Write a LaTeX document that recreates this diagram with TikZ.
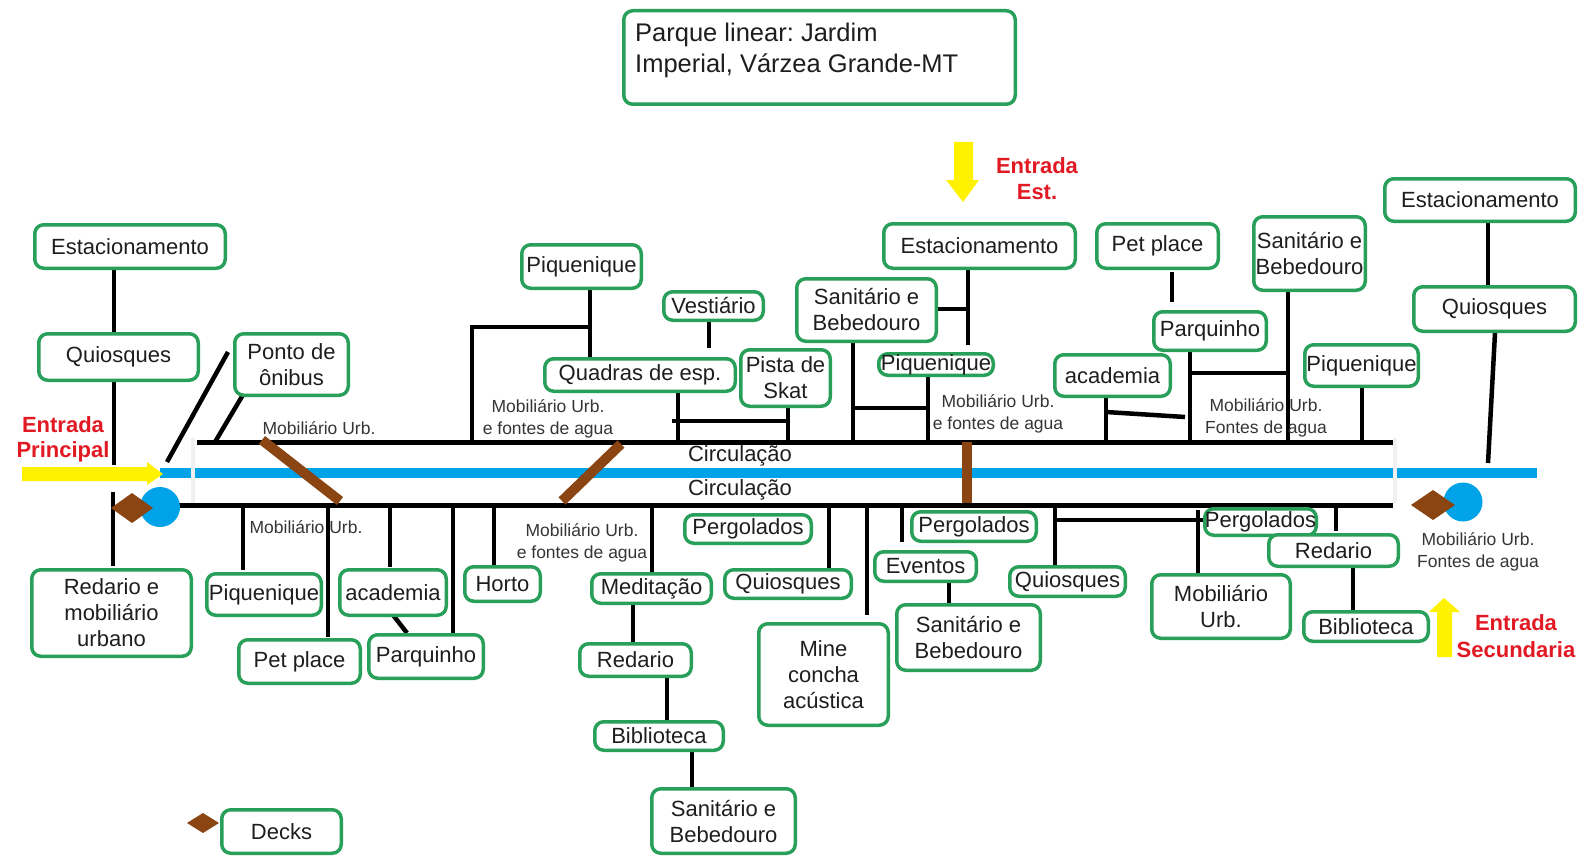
\documentclass[tikz,border=0pt]{standalone}
\usepackage{fontspec}
\setmainfont{Liberation Sans}
\frenchspacing
\definecolor{bgreen}{RGB}{40,160,90}
\definecolor{pblue}{RGB}{0,162,232}
\definecolor{pbrown}{RGB}{139,69,19}
\definecolor{pyellow}{RGB}{255,242,0}
\definecolor{pred}{RGB}{225,25,35}
\definecolor{txt}{RGB}{30,30,30}
\newcommand{\bxfont}{\fontsize{22}{26}\selectfont}
\newcommand{\smfont}{\fontsize{17.5}{22}\selectfont}
\newcommand{\ttlfont}{\fontsize{25.5}{31}\selectfont}
\newcommand{\bx}[6]{\node[box, minimum width={#4-#2-3.5}, minimum height={#5-#3-3.5}] (#1) at ({(#2+#4)/2},{(#3+#5)/2}) {#6};}
\newcommand{\dmd}[4]{\fill[pbrown] (#1-#3,#2) -- (#1,#2-#4) -- (#1+#3,#2) -- (#1,#2+#4) -- cycle;}
\tikzset{
  box/.style={draw=bgreen, line width=3.5pt, rounded corners=9pt, fill=white, inner sep=0pt, align=center, text=txt, font=\bxfont},
  conn/.style={line width=4.5pt, black},
  mainline/.style={line width=5pt, black},
  deckbar/.style={line width=10pt, pbrown},
  lbl/.style={font=\smfont, text=txt!90, align=center, inner sep=0pt},
  entlbl/.style={font=\bxfont\bfseries, text=pred, align=center, inner sep=0pt},
}
\begin{document}
\begin{tikzpicture}[x=1pt,y=-1pt]
\useasboundingbox (0,0) rectangle (1582,856);
\fill[white] (0,0) rectangle (1582,856);

% blue path and main circulation lines
\draw[pblue, line width=10.5pt] (160,473) -- (1537,473);
\draw[gray!12, line width=4pt] (193,438) -- (193,503);
\draw[gray!12, line width=4pt] (1395,438) -- (1395,503);
\draw[mainline] (197,442) -- (1393,442);
\draw[mainline] (165,505) -- (1393,505);

% entrance arrows
\fill[pyellow] (22,467) -- (147,467) -- (147,462) -- (163,474) -- (147,485) -- (147,481) -- (22,481) -- cycle;
\fill[pyellow] (954,142) -- (973,142) -- (973,180) -- (979,180) -- (963,202) -- (946,180) -- (954,180) -- cycle;
\fill[pyellow] (1437,657) -- (1452,657) -- (1452,612) -- (1460,612) -- (1444,598) -- (1429,612) -- (1437,612) -- cycle;

% connectors (drawn before boxes)
\draw[conn] (114,268) -- (114,334);
\draw[conn] (114,380) -- (114,465);
\draw[conn] (113,492) -- (113,566);
\draw[conn] (228,352) -- (167,462);
\draw[conn] (247,388) -- (215,442);
\draw[conn] (243,505) -- (243,570);
\draw[conn] (328,505) -- (328,637);
\draw[conn] (390,505) -- (390,567);
\draw[conn] (393,615) -- (407,633);
\draw[conn] (453,505) -- (453,633);
\draw[conn] (494,505) -- (494,565);
\draw[conn] (652,505) -- (652,572);
\draw[conn] (633,605) -- (633,642);
\draw[conn] (667,678) -- (667,720);
\draw[conn] (692,752) -- (692,787);
\draw[conn] (829,505) -- (829,568);
\draw[conn] (867,505) -- (867,615);
\draw[conn] (902,505) -- (902,542);
\draw[conn] (949,583) -- (949,603);
\draw[conn] (1055,505) -- (1055,567);
\draw[conn] (1055,520) -- (1205,520);
\draw[conn] (1198,510) -- (1198,573);
\draw[conn] (1336,505) -- (1336,531);
\draw[conn] (1353,568) -- (1353,610);
% upper connectors
\draw[conn] (472,442) -- (472,327) -- (590,327);
\draw[conn] (590,290) -- (590,357);
\draw[conn] (709,318) -- (709,348);
\draw[conn] (678,393) -- (678,442);
\draw[conn] (672,421) -- (788,421);
\draw[conn] (788,405) -- (788,442);
\draw[conn] (968,270) -- (968,345);
\draw[conn] (938,309) -- (968,309);
\draw[conn] (853,343) -- (853,442);
\draw[conn] (853,408) -- (928,408);
\draw[conn] (928,376) -- (928,442);
\draw[conn] (1172,272) -- (1172,302);
\draw[conn] (1106,398) -- (1106,442);
\draw[conn] (1106,412) -- (1185,417);
\draw[conn] (1190,352) -- (1190,442);
\draw[conn] (1190,373) -- (1288,373);
\draw[conn] (1288,292) -- (1288,442);
\draw[conn] (1362,388) -- (1362,442);
\draw[conn] (1488,223) -- (1488,285);
\draw[conn] (1495,333) -- (1488,463);

% deck bars
\draw[deckbar] (262,440) -- (340,501);
\draw[deckbar] (621,444) -- (562,501);
\draw[deckbar] (967,442) -- (967,503);

% circles and diamonds
\fill[pblue] (160,507) circle (20);
\dmd{132}{508}{21}{15}
\fill[pblue] (1463,502) circle (19.5);
\dmd{1433}{505}{22}{15}
\dmd{203}{823}{16}{10}

% title
\bx{title}{622}{9}{1017}{106}{}
\node[anchor=west, align=left, inner sep=0pt, font=\ttlfont, text=txt] (ttltext) at (635,50) {Parque linear: Jardim\\Imperial, Várzea Grande-MT};

% boxes
\bx{estL}{33}{223}{227}{270}{Estacionamento}
\bx{quiL}{37}{332}{200}{382}{Quiosques}
\bx{ponto}{233}{332}{350}{397}{Ponto de\\ônibus}
\bx{redL}{30}{568}{193}{658}{Redario e\\mobiliário\\urbano}
\bx{piqB}{205}{572}{323}{617}{Piquenique}
\bx{petB}{237}{638}{362}{685}{Pet place}
\bx{acaB}{338}{568}{448}{617}{academia}
\bx{parB}{367}{633}{485}{680}{Parquinho}
\bx{horto}{463}{565}{542}{603}{Horto}
\bx{medit}{590}{572}{713}{605}{Meditação}
\bx{pergB}{683}{513}{813}{545}{Pergolados}
\bx{quiB}{723}{568}{853}{600}{Quiosques}
\bx{mine}{757}{622}{890}{727}{Mine\\concha\\acústica}
\bx{redM}{578}{642}{693}{678}{Redario}
\bx{bibM}{593}{720}{725}{752}{Biblioteca}
\bx{sanB}{650}{787}{797}{855}{Sanitário e\\Bebedouro}
\bx{piqT}{520}{243}{643}{290}{Piquenique}
\bx{quadras}{543}{357}{737}{393}{Quadras de esp.}
\bx{vest}{662}{290}{765}{322}{Vestiário}
\bx{skat}{739}{348}{832}{408}{Pista de\\Skat}
\bx{sanT}{795}{277}{938}{343}{Sanitário e\\Bebedouro}
\bx{estM}{882}{222}{1077}{270}{Estacionamento}
\bx{piqS}{877}{352}{995}{377}{Piquenique}
\bx{petT}{1095}{222}{1220}{270}{Pet place}
\bx{parT}{1152}{310}{1268}{352}{Parquinho}
\bx{acaT}{1053}{353}{1172}{398}{academia}
\bx{sanR}{1252}{215}{1367}{292}{Sanitário e\\Bebedouro}
\bx{piqR}{1303}{343}{1420}{388}{Piquenique}
\bx{estR}{1383}{177}{1577}{223}{Estacionamento}
\bx{quiR}{1412}{285}{1577}{333}{Quiosques}
\bx{pergR}{1203}{507}{1318}{537}{Pergolados}
\bx{redR}{1267}{533}{1400}{568}{Redario}
\bx{bibR}{1302}{610}{1430}{643}{Biblioteca}
\bx{mobR}{1150}{573}{1292}{640}{Mobiliário\\Urb.}
\bx{quiM}{1008}{565}{1127}{598}{Quiosques}
\bx{pergM}{910}{510}{1038}{543}{Pergolados}
\bx{eventos}{873}{550}{978}{583}{Eventos}
\bx{sanM}{895}{603}{1042}{672}{Sanitário e\\Bebedouro}
\bx{decks}{220}{808}{343}{855}{Decks}

% labels
\node[lbl] (m1) at (319,428) {Mobiliário Urb.};
\node[lbl] (m2) at (306,527) {Mobiliário Urb.};
\node[lbl] (m3) at (548,419) {Mobiliário Urb.\\e fontes de agua};
\node[lbl] (m4) at (582,543) {Mobiliário Urb.\\e fontes de agua};
\node[lbl] (m5) at (998,414) {Mobiliário Urb.\\e fontes de agua};
\node[lbl] (m6) at (1266,418) {Mobiliário Urb.\\Fontes de agua};
\node[lbl] (m7) at (1478,552) {Mobiliário Urb.\\Fontes de agua};
\node[font=\bxfont, text=txt, inner sep=0pt] (c1) at (740,456) {Circulação};
\node[font=\bxfont, text=txt, inner sep=0pt] (c2) at (740,490) {Circulação};

% entrance labels
\node[entlbl, font=\fontsize{22}{25}\selectfont\bfseries] (e1) at (63,439) {Entrada\\Principal};
\node[entlbl] (e2) at (1037,179) {Entrada\\Est.};
\node[entlbl, font=\fontsize{22}{27}\selectfont\bfseries] (e3) at (1516,636) {Entrada\\Secundaria};
\end{tikzpicture}
\end{document}
